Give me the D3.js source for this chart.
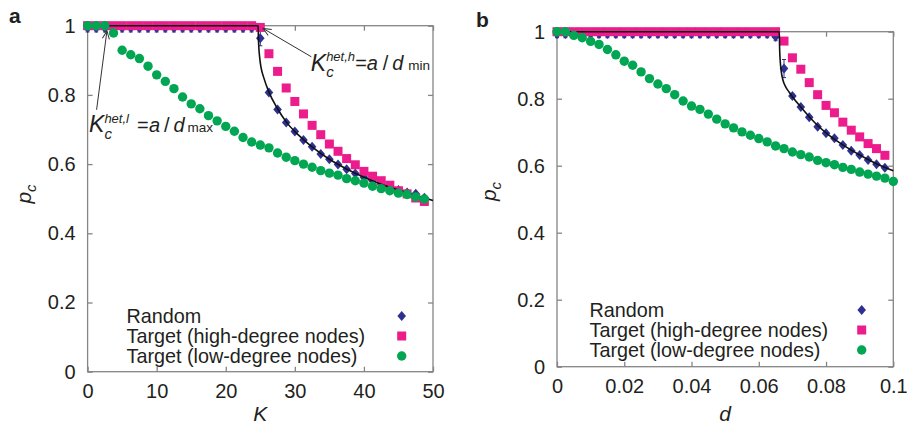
<!DOCTYPE html>
<html><head><meta charset="utf-8">
<script src="https://cdn.jsdelivr.net/npm/d3@7"></script>
<style>
body{margin:0;background:#fff}
text{font-family:"Liberation Sans",Arial,Helvetica,sans-serif;fill:#231f20}
</style>
</head><body>
<svg id="chart" width="907" height="424"></svg>
<script>
// ---------------- DATA ----------------
const kValues = [0,1.25,2.5,3.75,5,6.25,7.5,8.75,10,11.25,12.5,13.75,15,16.25,17.5,18.75,20,21.25,22.5,23.75,
  25,26.25,27.5,28.75,30,31.25,32.5,33.75,35,36.25,37.5,38.75,40,41.25,42.5,43.75,45,46.25,47.5,48.75];
const randomA = [0.993,0.993,0.993,0.993,0.993,0.993,0.993,0.993,0.993,0.993,0.993,0.993,0.993,0.993,0.993,0.993,0.993,0.993,0.993,0.993,
  0.964,0.807,0.758,0.720,0.694,0.670,0.650,0.629,0.614,0.599,0.585,0.573,0.562,0.552,0.542,0.533,0.525,0.518,0.514,0.503];
const randomErrA = [0.011,0.011,0.011,0.011,0.011,0.011,0.011,0.011,0.011,0.011,0.011,0.011,0.011,0.011,0.011,0.011,0.011,0.011,0.011,0.011,
  0.022,0.006,0.005,0.005,0.005,0.005,0.004,0.004,0.004,0.004,0.004,0.004,0.004,0.004,0.004,0.004,0.004,0.004,0.004,0.004];
const highA = [1,1,1,1,1,1,1,1,1,1,1,1,1,1,1,1,1,1,1,1,
  0.995,0.919,0.868,0.820,0.781,0.745,0.712,0.685,0.658,0.637,0.616,0.598,0.579,0.565,0.552,0.539,0.523,0.514,0.502,0.492];
const lowA = [1,1,1,0.979,0.929,0.916,0.905,0.883,0.858,0.839,0.818,0.794,0.774,0.760,0.740,0.725,0.709,0.695,0.677,0.664,
  0.655,0.647,0.632,0.620,0.610,0.600,0.591,0.581,0.574,0.568,0.558,0.552,0.545,0.536,0.529,0.523,0.516,0.512,0.505,0.499];
const theoryAK = [0,24.7,24.72,24.78,24.9,25.1,25.5,26.25,27.5,28.75,30,31.25,32.5,35,37.5,40,42.5,45,47.5,50];
const theoryAp = [1,1,0.97,0.94,0.91,0.88,0.85,0.808,0.760,0.722,0.694,0.671,0.650,0.614,0.586,0.562,0.542,0.525,0.509,0.495];

const dValues = [0,0.0025,0.005,0.0075,0.01,0.0125,0.015,0.0175,0.02,0.0225,0.025,0.0275,0.03,0.0325,0.035,0.0375,0.04,0.0425,0.045,0.0475,
  0.05,0.0525,0.055,0.0575,0.06,0.0625,0.065,0.0675,0.07,0.0725,0.075,0.0775,0.08,0.0825,0.085,0.0875,0.09,0.0925,0.095,0.0975,0.1];
const randomB = [0.993,0.993,0.993,0.993,0.993,0.993,0.993,0.993,0.993,0.993,0.993,0.993,0.993,0.993,0.993,0.993,0.993,0.993,0.993,0.993,
  0.993,0.993,0.993,0.993,0.993,0.993,0.985,0.890,0.808,0.775,0.745,0.716,0.697,0.682,0.662,0.645,0.632,0.617,0.604,0.594,null];
const randomErrB = [0.011,0.011,0.011,0.011,0.011,0.011,0.011,0.011,0.011,0.011,0.011,0.011,0.011,0.011,0.011,0.011,0.011,0.011,0.011,0.011,
  0.011,0.011,0.011,0.011,0.011,0.011,0.012,0.027,0.006,0.005,0.005,0.005,0.004,0.004,0.004,0.004,0.004,0.004,0.004,0.004,null];
const highB = [1,1,1,1,1,1,1,1,1,1,1,1,1,1,1,1,1,1,1,1,
  1,1,1,1,1,1,1,0.972,0.922,0.888,0.848,0.812,0.780,0.758,0.730,0.706,0.686,0.666,0.651,0.631,null];
const lowB = [1,1,0.989,0.982,0.971,0.962,0.947,0.931,0.912,0.900,0.880,0.860,0.844,0.830,0.812,0.793,0.778,0.768,0.754,0.739,
  0.725,0.713,0.701,0.691,0.681,0.671,0.659,0.651,0.641,0.633,0.626,0.616,0.609,0.603,0.595,0.589,0.581,0.575,0.569,0.563,0.553];
const theoryBd = [0,0.0661,0.0662,0.0664,0.0667,0.0672,0.068,0.069,0.07,0.0725,0.075,0.0775,0.08,0.085,0.09,0.095,0.1];
const theoryBp = [1,1,0.95,0.91,0.88,0.855,0.835,0.82,0.806,0.775,0.746,0.72,0.698,0.662,0.632,0.606,0.585];

const yTicks = [0,0.2,0.4,0.6,0.8,1];
const kTicks = [0,10,20,30,40,50];
const dTicks = [0,0.02,0.04,0.06,0.08,0.1];
const legendLabels = ["Random","Target (high-degree nodes)","Target (low-degree nodes)"];

// ---------------- STYLE ----------------
const C_BLUE = "#2e3192", C_PINK = "#ec1c8c", C_GREEN = "#00a651", C_FRAME = "#858585";
const FS = 20, FS_LEG = 19.8;

const svg = d3.select("#chart");
const defs = svg.append("defs");
defs.append("marker").attr("id","arrow").attr("viewBox","-10 -6 12 12")
  .attr("refX",0).attr("refY",0).attr("markerWidth",12).attr("markerHeight",12)
  .attr("markerUnits","userSpaceOnUse").attr("orient","auto")
  .append("path").attr("d","M-8,-3.5 L0,0 L-8,3.5").attr("fill","none").attr("stroke","#333").attr("stroke-width",1);

function diamond(cx, cy, w, h){ return `M${cx},${cy-h} L${cx+w},${cy} L${cx},${cy+h} L${cx-w},${cy} Z`; }

function drawPanel(cfg){
  const g = svg.append("g");
  const x = d3.scaleLinear().domain(cfg.xDomain).range([cfg.left, cfg.right]);
  const y = d3.scaleLinear().domain([0,1]).range([cfg.bottom, cfg.top]);

  g.append("rect").attr("x",cfg.left).attr("y",cfg.top).attr("width",cfg.right-cfg.left).attr("height",cfg.bottom-cfg.top)
    .attr("fill","none").attr("stroke",C_FRAME).attr("stroke-width",1.3);

  const fmt = d3.format("~g");
  const axB = g.append("g").attr("transform",`translate(0,${cfg.bottom})`)
    .call(d3.axisBottom(x).tickValues(cfg.xTicks).tickFormat(fmt).tickSizeInner(-5).tickSizeOuter(0).tickPadding(12.5));
  const axT = g.append("g").attr("transform",`translate(0,${cfg.top})`)
    .call(d3.axisTop(x).tickValues(cfg.xTicks).tickFormat("").tickSizeInner(-5).tickSizeOuter(0));
  const axL = g.append("g").attr("transform",`translate(${cfg.left},0)`)
    .call(d3.axisLeft(y).tickValues(yTicks).tickFormat(fmt).tickSizeInner(-5).tickSizeOuter(0).tickPadding(12));
  const axR = g.append("g").attr("transform",`translate(${cfg.right},0)`)
    .call(d3.axisRight(y).tickValues(yTicks).tickFormat("").tickSizeInner(-5).tickSizeOuter(0));
  [axB,axT,axL,axR].forEach(a=>{
    a.select(".domain").remove();
    a.selectAll(".tick line").attr("stroke",C_FRAME).attr("stroke-width",1.3);
    a.selectAll("text").attr("font-size",FS).attr("fill","#231f20")
      .style("font-family",'"Liberation Sans",Arial,sans-serif');
  });

  const xs = cfg.xValues;
  const rnd = xs.map((v,i)=>({x:v,p:cfg.random[i],e:cfg.randomErr[i]})).filter(d=>d.p!=null);
  const gr = g.append("g");
  rnd.forEach(d=>{
    const cx = x(d.x);
    gr.append("line").attr("x1",cx).attr("x2",cx).attr("y1",y(d.p-d.e)).attr("y2",y(d.p+d.e)).attr("stroke",C_BLUE).attr("stroke-width",1);
    [d.p-d.e,d.p+d.e].forEach(v=>gr.append("line").attr("x1",cx-2).attr("x2",cx+2).attr("y1",y(v)).attr("y2",y(v)).attr("stroke",C_BLUE).attr("stroke-width",1));
  });
  gr.selectAll("path.dm").data(rnd).enter().append("path").attr("class","dm")
    .attr("d",d=>diamond(x(d.x),y(d.p),4.3,5)).attr("fill",C_BLUE);

  const hi = xs.map((v,i)=>({x:v,p:cfg.high[i]})).filter(d=>d.p!=null);
  g.append("g").selectAll("rect").data(hi).enter().append("rect")
    .attr("x",d=>x(d.x)-4.5).attr("y",d=>y(d.p)-4.5).attr("width",9).attr("height",9).attr("fill",C_PINK);

  const line = d3.line().x(d=>x(d[0])).y(d=>y(d[1])).curve(d3.curveMonotoneX);
  g.append("path").attr("d",line(cfg.theoryX.map((v,i)=>[v,cfg.theoryP[i]])))
    .attr("fill","none").attr("stroke","#111").attr("stroke-width",1.6);

  const lo = xs.map((v,i)=>({x:v,p:cfg.low[i]})).filter(d=>d.p!=null);
  g.append("g").selectAll("circle").data(lo).enter().append("circle")
    .attr("cx",d=>x(d.x)).attr("cy",d=>y(d.p)).attr("r",4.7).attr("fill",C_GREEN);

  const lg = g.append("g");
  legendLabels.forEach((t,i)=>{
    lg.append("text").attr("x",cfg.legX).attr("y",cfg.legY+i*20).attr("font-size",FS_LEG).text(t);
    const mx = cfg.legMX, my = cfg.legY+i*20-6.5;
    if(i===0) lg.append("path").attr("d",diamond(mx,my,4.3,5)).attr("fill",C_BLUE);
    if(i===1) lg.append("rect").attr("x",mx-4.5).attr("y",my-4.5).attr("width",9).attr("height",9).attr("fill",C_PINK);
    if(i===2) lg.append("circle").attr("cx",mx).attr("cy",my).attr("r",4.7).attr("fill",C_GREEN);
  });

  g.append("text").attr("x",(cfg.left+cfg.right)/2).attr("y",421).attr("text-anchor","middle")
    .attr("font-size",21).attr("font-style","italic").text(cfg.xTitle);
  const yt = g.append("text").attr("transform",`translate(${cfg.yTitleX},${cfg.yTitleY}) rotate(-90)`)
    .attr("text-anchor","middle").attr("font-size",21).attr("font-style","italic");
  yt.append("tspan").text("p");
  yt.append("tspan").attr("font-size",15).attr("dy",5).text("c");

  g.append("text").attr("x",cfg.letterX).attr("y",cfg.letterY).attr("font-size",21).attr("font-weight","bold").text(cfg.letter);
  return {g,x,y};
}

function richLabel(g, ax, ay, parts){
  const t = g.append("text");
  parts.forEach(p=>{
    t.append("tspan").attr("x",ax+p.dx).attr("y",ay+p.dy).attr("font-size",p.fs)
      .attr("font-style",p.it?"italic":"normal").text(p.t);
  });
}

const pa = drawPanel({
  xDomain:[0,50], left:87.6, right:433, top:25.7, bottom:371.7,
  xTicks:kTicks, xValues:kValues, random:randomA, randomErr:randomErrA, high:highA, low:lowA,
  theoryX:theoryAK, theoryP:theoryAp, xTitle:"K",
  legX:126.5, legY:322.5, legMX:401.7,
  yTitleX:31, yTitleY:194, letter:"a", letterX:9, letterY:23
});
const pb = drawPanel({
  xDomain:[0,0.1], left:557, right:893.3, top:31.7, bottom:366.7,
  xTicks:dTicks, xValues:dValues, random:randomB, randomErr:randomErrB, high:highB, low:lowB,
  theoryX:theoryBd, theoryP:theoryBp, xTitle:"d",
  legX:589.5, legY:316.5, legMX:861.7,
  yTitleX:496, yTitleY:191.5, letter:"b", letterX:476, letterY:27
});

const ann = pa.g.append("g");
ann.append("line").attr("x1",pa.x(32.4)).attr("y1",pa.y(0.910)).attr("x2",pa.x(25.4)).attr("y2",pa.y(0.992))
  .attr("stroke","#333").attr("stroke-width",1).attr("marker-end","url(#arrow)");
richLabel(ann, pa.x(32.3), pa.y(0.870), [
  {t:"K",dx:0,dy:0,fs:23,it:true},
  {t:"het,h",dx:15.4,dy:-10,fs:13,it:true},
  {t:"c",dx:15.4,dy:6.5,fs:15,it:true},
  {t:"=",dx:44.5,dy:-0.5,fs:20},
  {t:"a",dx:56,dy:-0.5,fs:20,it:true},
  {t:"/",dx:72,dy:-0.5,fs:20},
  {t:"d",dx:81.5,dy:-0.5,fs:20,it:true},
  {t:"min",dx:97.5,dy:-0.5,fs:13.5}
]);
ann.append("line").attr("x1",pa.x(1.3)).attr("y1",pa.y(0.757)).attr("x2",pa.x(2.8)).attr("y2",pa.y(0.985))
  .attr("stroke","#333").attr("stroke-width",1).attr("marker-end","url(#arrow)");
richLabel(ann, pa.x(0.2), pa.y(0.694), [
  {t:"K",dx:0,dy:0,fs:23,it:true},
  {t:"het,l",dx:15.4,dy:-9,fs:13,it:true},
  {t:"c",dx:15.4,dy:7,fs:15,it:true},
  {t:"=",dx:48,dy:0,fs:20},
  {t:"a",dx:60,dy:0,fs:20,it:true},
  {t:"/",dx:75,dy:0,fs:20},
  {t:"d",dx:84.5,dy:0,fs:20,it:true},
  {t:"max",dx:98.5,dy:0,fs:13.5}
]);
</script>
</body></html>
